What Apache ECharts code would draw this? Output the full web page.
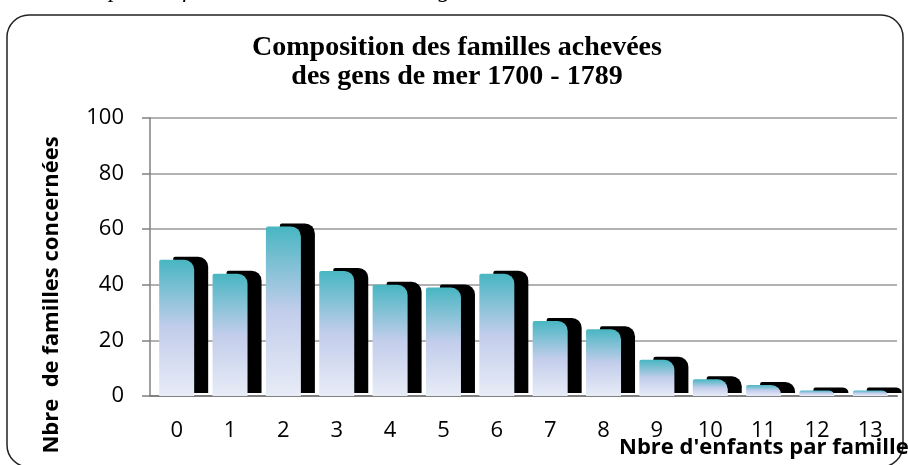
<!DOCTYPE html>
<html>
<head>
<meta charset="utf-8">
<script src="https://cdn.jsdelivr.net/npm/echarts@6/dist/echarts.min.js"></script>
<style>
  html, body { margin: 0; padding: 0; background: #fff; }
  #chart { width: 908px; height: 465px; }
</style>
</head>
<body>
<div id="chart"></div>
<script>
// nombre d'enfants par famille
const categories = ["0", "1", "2", "3", "4", "5", "6", "7", "8", "9", "10", "11", "12", "13"];
// nombre de familles concernées
const familles = [49, 44, 61, 45, 40, 39, 44, 27, 24, 13, 6, 4, 2, 2];
const yTicks = { min: 0, max: 100, interval: 20 };

const chart = echarts.init(document.getElementById("chart"));

const barFill = new echarts.graphic.LinearGradient(0, 0, 0, 1, [
  { offset: 0, color: "#48b6c2" },
  { offset: 0.5, color: "#c2cdeb" },
  { offset: 1, color: "#e8ecf7" }
]);

chart.setOption({
  animation: false,
  graphic: [
    {
      type: "rect",
      shape: { x: 7, y: 15, width: 896, height: 452, r: 22 },
      style: { fill: "none", stroke: "#222", lineWidth: 1.5 }
    },
    {
      type: "text",
      left: 18,
      top: -21,
      style: {
        text: "tenir compte des familles achevées chez les gens de mer de Saint-Malo au XVIIIe siècle",
        font: "italic 24px 'Liberation Serif'",
        fill: "#000"
      }
    },
    {
      // titre de l'axe x, en bas à droite
      type: "text",
      left: 619,
      top: 437,
      style: {
        text: "Nbre d'enfants par famille",
        font: "bold 22px 'Open Sans'",
        fill: "#000"
      }
    },
    {
      // titre de l'axe y, vertical
      type: "text",
      x: 52,
      y: 295,
      rotation: Math.PI / 2,
      style: {
        text: "Nbre  de familles concernées",
        font: "bold 22px 'Open Sans'",
        fill: "#000",
        align: "center",
        verticalAlign: "middle"
      }
    }
  ],
  title: {
    text: "Composition des familles achevées\ndes gens de mer 1700 - 1789",
    left: 452,
    textAlign: "center",
    top: 28,
    textStyle: {
      fontFamily: "Liberation Serif",
      fontWeight: "bold",
      fontSize: 28,
      lineHeight: 29,
      color: "#000"
    }
  },
  grid: { left: 150, right: 11, top: 118, bottom: 69 },
  xAxis: {
    type: "category",
    data: categories,
    axisLine: { lineStyle: { color: "#808080", width: 2 } },
    axisTick: { length: 8, lineStyle: { color: "#808080", width: 1.5 } },
    axisLabel: { margin: 24, fontFamily: "Open Sans", fontSize: 22, color: "#000" }
  },
  yAxis: {
    type: "value",
    min: yTicks.min,
    max: yTicks.max,
    interval: yTicks.interval,
    axisLine: { show: true, lineStyle: { color: "#808080", width: 1.5 } },
    axisTick: { show: true, length: 8, lineStyle: { color: "#808080", width: 1.5 } },
    axisLabel: { margin: 26, fontFamily: "Open Sans", fontSize: 22, color: "#000" },
    splitLine: { lineStyle: { color: "#999", width: 1.5 } }
  },
  series: [
    {
      type: "bar",
      data: familles,
      barWidth: 35,
      itemStyle: {
        color: barFill,
        borderWidth: 0,
        borderRadius: [2, 10, 0, 0],
        shadowColor: "#000",
        shadowBlur: 0,
        shadowOffsetX: 14,
        shadowOffsetY: -3
      }
    }
  ]
});
</script>
</body>
</html>
